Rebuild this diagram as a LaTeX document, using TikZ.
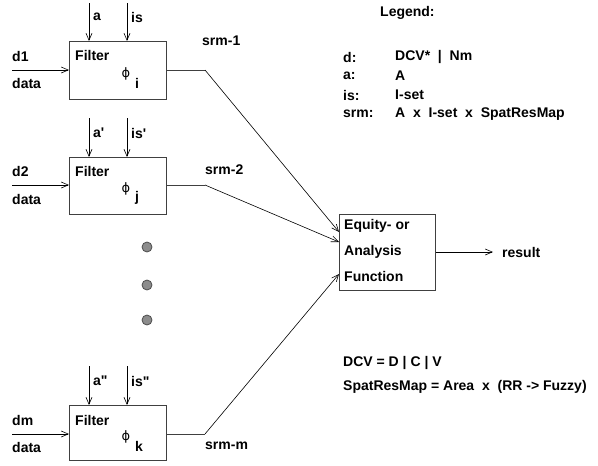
\documentclass[tikz,border=0pt]{standalone}
\usepackage{fontspec}
\setmainfont{Liberation Sans}
\newfontfamily\lsans{Liberation Sans}
\newfontfamily\phifont{DejaVu Sans}
\usetikzlibrary{arrows.meta}
\tikzset{
  lbl/.style={anchor=west, inner sep=0pt, font=\fontsize{14}{16}\selectfont\lsans\bfseries},
  phisym/.style={anchor=center, inner sep=0pt, font=\fontsize{13}{15}\selectfont\phifont},
  boxline/.style={draw=black!75, line width=1pt},
  arr/.style={draw=black, line width=0.6pt, -{Straight Barb[length=7pt,width=6pt]}},
  outline/.style={draw=black!75, line width=0.9pt},
  dotc/.style={circle, draw=black!70, fill=black!45, line width=0.8pt, minimum size=10pt, inner sep=0pt}
}
\begin{document}
\begin{tikzpicture}[x=1pt,y=-1pt]
\useasboundingbox (0,0) rectangle (598,466);

% Filter boxes
\node[boxline, minimum width=97pt, minimum height=58pt, anchor=north west, inner sep=0pt] (f1) at (69,41) {};
\node[boxline, minimum width=97pt, minimum height=57pt, anchor=north west, inner sep=0pt] (f2) at (69,157) {};
\node[boxline, minimum width=97pt, minimum height=55pt, anchor=north west, inner sep=0pt] (f3) at (69,405) {};

% Equity box
\node[boxline, minimum width=96pt, minimum height=76pt, anchor=north west, inner sep=0pt] (eq) at (339,214) {};
\node[lbl] (eq1) at (344,226) {Equity- or};
\node[lbl] (eq2) at (344,252) {Analysis};
\node[lbl] (eq3) at (344,276) {Function};

% Filter texts
\node[lbl] (ft1) at (75,55) {Filter};
\node[phisym] (p1) at (126,74) {ϕ};
\node[lbl] (s1) at (135,83) {i};
\node[lbl] (ft2) at (75,171) {Filter};
\node[phisym] (p2) at (126,189) {ϕ};
\node[lbl] (s2) at (135,198) {j};
\node[lbl] (ft3) at (75,420) {Filter};
\node[phisym] (p3) at (126,437) {ϕ};
\node[lbl] (s3) at (135,446) {k};

% top inputs
\coordinate (a1t) at (89,3);   \coordinate (a1b) at (89,41);
\coordinate (i1t) at (127,3);  \coordinate (i1b) at (127,41);
\coordinate (a2t) at (89,118); \coordinate (a2b) at (89,157);
\coordinate (i2t) at (127,118);\coordinate (i2b) at (127,157);
\coordinate (a3t) at (89,366); \coordinate (a3b) at (89,405);
\coordinate (i3t) at (127,366);\coordinate (i3b) at (127,405);
\draw[arr] (a1t) -- (a1b);
\draw[arr] (i1t) -- (i1b);
\draw[arr] (a2t) -- (a2b);
\draw[arr] (i2t) -- (i2b);
\draw[arr] (a3t) -- (a3b);
\draw[arr] (i3t) -- (i3b);
\node[lbl] (la1) at (93,17) {a};
\node[lbl] (li1) at (131,17) {is};
\node[lbl] (la2) at (93,133) {a'};
\node[lbl] (li2) at (131,133) {is'};
\node[lbl] (la3) at (93,381) {a"};
\node[lbl] (li3) at (131,381) {is"};

% data inputs
\coordinate (d1s) at (12,70);
\coordinate (d2s) at (12,185);
\coordinate (d3s) at (12,434);
\draw[arr] (d1s) -- (f1.west |- d1s);
\draw[arr] (d2s) -- (f2.west |- d2s);
\draw[arr] (d3s) -- (f3.west |- d3s);
\node[lbl] (ld1) at (12,56) {d1};
\node[lbl] (ldd1) at (12,83) {data};
\node[lbl] (ld2) at (12,171) {d2};
\node[lbl] (ldd2) at (12,199) {data};
\node[lbl] (ld3) at (12,420) {dm};
\node[lbl] (ldd3) at (12,447) {data};

% outputs
\coordinate (o1) at (205,70);
\coordinate (o2) at (205,185);
\coordinate (o3) at (205,434);
\coordinate (e1) at (339,232);
\coordinate (e2) at (339,242);
\coordinate (e3) at (339,274);
\draw[outline] (f1.east |- o1) -- (o1);
\draw[outline] (f2.east |- o2) -- (o2);
\draw[outline] (f3.east |- o3) -- (o3);
\draw[arr] (o1) -- (e1);
\draw[arr] (o2) -- (e2);
\draw[arr] (o3) -- (e3);
\node[lbl] (ls1) at (202,41) {srm-1};
\node[lbl] (ls2) at (205,170) {srm-2};
\node[lbl] (ls3) at (205,446) {srm-m};

% result
\coordinate (res) at (493,252);
\draw[arr] (eq.east |- res) -- (res);
\node[lbl] (lres) at (502,252) {result};

% dots
\node[dotc] (dot1) at (147,247) {};
\node[dotc] (dot2) at (147,285) {};
\node[dotc] (dot3) at (147,320) {};

% legend
\node[lbl] (leg) at (380,13) {Legend:};
\node[lbl] (k1) at (343,57) {d:};
\node[lbl] (v1) at (395,57) {DCV*\ \ |\ \ Nm};
\node[lbl] (k2) at (343,76) {a:};
\node[lbl] (v2) at (395,76) {A};
\node[lbl] (k3) at (343,95) {is:};
\node[lbl] (v3) at (395,95) {I-set};
\node[lbl] (k4) at (343,114) {srm:};
\node[lbl] (v4) at (395,114) {A\ \ x\ \ I-set\ \ x\ \ SpatResMap};

\node[lbl] (n1) at (343,363) {DCV = D | C | V};
\node[lbl] (n2) at (343,387) {SpatResMap = Area\ \ x\ \ (RR -> Fuzzy)};
\end{tikzpicture}
\end{document}
